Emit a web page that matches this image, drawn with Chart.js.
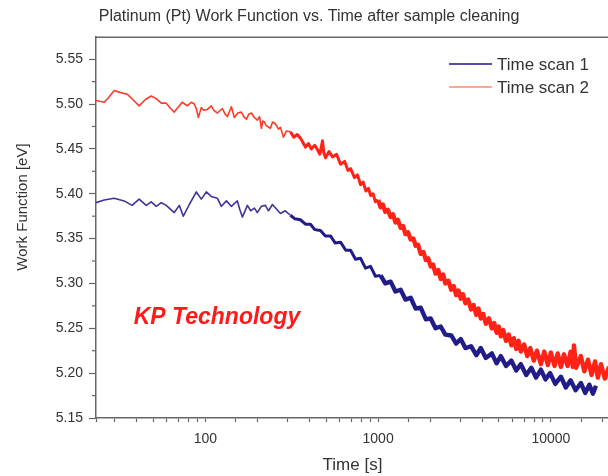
<!DOCTYPE html>
<html>
<head>
<meta charset="utf-8">
<script src="https://cdn.jsdelivr.net/npm/chart.js@4.4.1/dist/chart.umd.min.js"></script>
<style>
  html, body { margin: 0; padding: 0; background: #fff; overflow: hidden; }
  /* the original picture is cut off on the right, so the canvas runs past the window */
  #wrap { width: 618px; height: 476px; position: relative; }
</style>
</head>
<body>
<div id="wrap"><canvas id="wf_chart"></canvas></div>
<script>
// values (time in s, work function in eV)
const seriesNames = ["Time scan 1", "Time scan 2"];

const scan1Time = [
    23.3, 26.0, 29.7, 33.9, 37.7, 41.4, 45.5, 48.6, 52.0, 55.6,
    59.4, 66.1, 70.7, 74.6, 80.8, 88.7, 94.8, 101.3, 108.3, 117.4,
    123.8, 132.4, 141.5, 153.3, 158, 163.9, 175.2, 183, 192.4, 200,
    211.2, 222.7, 232, 244.6, 258, 272, 290, 311, 330, 355,
    380, 406, 430, 464, 495, 530, 565, 606, 650, 693,
    740, 792, 845, 904, 965, 1034, 1100, 1182, 1260, 1350,
    1440, 1543, 1650, 1764, 1890, 2015, 2150, 2303, 2450, 2650,
    2830, 3008, 3200, 3450, 3700, 3929, 4200, 4550, 4850, 5130,
    5500, 5900, 6300, 6700, 7200, 7700, 8200, 8750, 9300, 9900,
    10600, 11430, 12200, 13000, 13900, 14925, 15800, 16700, 17500, 18240
];
const scan1WF = [
    5.390, 5.393, 5.395, 5.392, 5.387, 5.394, 5.387, 5.391, 5.386, 5.390,
    5.387, 5.379, 5.387, 5.375, 5.388, 5.402, 5.394, 5.402, 5.397, 5.395,
    5.386, 5.392, 5.386, 5.392, 5.383, 5.374, 5.387, 5.381, 5.384, 5.379,
    5.386, 5.387, 5.381, 5.388, 5.383, 5.378, 5.381, 5.376, 5.372, 5.371,
    5.366, 5.366, 5.360, 5.359, 5.353, 5.353, 5.345, 5.346, 5.337, 5.337,
    5.327, 5.328, 5.317, 5.319, 5.308, 5.309, 5.300, 5.302, 5.291, 5.293,
    5.282, 5.284, 5.272, 5.273, 5.260, 5.261, 5.250, 5.252, 5.243, 5.242,
    5.233, 5.238, 5.228, 5.230, 5.220, 5.228, 5.217, 5.222, 5.211, 5.219,
    5.208, 5.214, 5.203, 5.210, 5.198, 5.206, 5.195, 5.204, 5.193, 5.200,
    5.188, 5.196, 5.184, 5.192, 5.181, 5.189, 5.178, 5.187, 5.177, 5.186
];

const scan2Time = [
    23.3, 24.5, 26.0, 27.5, 29.7, 32.0, 35.3, 38.0, 41.4, 45.0,
    48.6, 52.0, 55.6, 59.4, 63.0, 66.1, 70.0, 73.5, 78.7, 82.9,
    86.3, 89.0, 91.1, 94.8, 98.0, 102.7, 108.3, 112.0, 117.4, 125.5,
    130.0, 134.1, 141.5, 147.3, 154.0, 161.7, 167.0, 172.9, 179.0, 184.8,
    192.0, 200.2, 206, 211.2, 215, 219.8, 225, 238.1, 245, 254.6,
    265, 272, 283.3, 295, 311.1, 325, 340, 355.4, 365, 379.8,
    395, 410, 430, 446.1, 460, 476.8, 485, 496.3, 520, 545,
    575, 606, 640, 670, 693, 730, 760, 792, 820, 850,
    880, 905, 935, 965, 1000, 1034, 1065, 1100, 1140, 1182,
    1220, 1260, 1300, 1350, 1395, 1440, 1490, 1543, 1600, 1650,
    1705, 1764, 1830, 1890, 1950, 2015, 2080, 2150, 2230, 2303,
    2380, 2450, 2550, 2650, 2740, 2830, 2920, 3008, 3100, 3200,
    3320, 3450, 3570, 3700, 3810, 3929, 4060, 4200, 4380, 4550,
    4700, 4850, 4990, 5130, 5300, 5500, 5700, 5900, 6100, 6300,
    6500, 6700, 7000, 7300, 7600, 7969, 8300, 8750, 9150, 9607,
    10000, 10500, 10950, 11430, 11900, 12500, 13000, 13400, 13595, 14000,
    14900, 15600, 16390, 17200, 18000, 18700, 19490, 20500, 21690
];
const scan2WF = [
    5.504, 5.503, 5.502, 5.507, 5.515, 5.513, 5.511, 5.505, 5.498, 5.505,
    5.509, 5.506, 5.501, 5.501, 5.495, 5.491, 5.497, 5.502, 5.498, 5.502,
    5.500, 5.494, 5.485, 5.496, 5.493, 5.494, 5.498, 5.493, 5.490, 5.495,
    5.489, 5.486, 5.497, 5.485, 5.490, 5.491, 5.486, 5.483, 5.489, 5.490,
    5.485, 5.482, 5.486, 5.473, 5.481, 5.480, 5.476, 5.473, 5.480, 5.478,
    5.472, 5.474, 5.463, 5.470, 5.469, 5.463, 5.466, 5.462, 5.458, 5.452,
    5.456, 5.450, 5.454, 5.449, 5.444, 5.459, 5.446, 5.440, 5.447, 5.441,
    5.444, 5.433, 5.436, 5.426, 5.428, 5.418, 5.421, 5.410, 5.413, 5.403,
    5.406, 5.398, 5.400, 5.391, 5.393, 5.385, 5.388, 5.380, 5.382, 5.374,
    5.377, 5.368, 5.371, 5.362, 5.364, 5.355, 5.357, 5.349, 5.350, 5.342,
    5.343, 5.333, 5.335, 5.326, 5.328, 5.319, 5.321, 5.311, 5.315, 5.305,
    5.310, 5.300, 5.303, 5.293, 5.297, 5.287, 5.292, 5.283, 5.288, 5.278,
    5.282, 5.271, 5.276, 5.265, 5.272, 5.261, 5.266, 5.255, 5.261, 5.250,
    5.256, 5.245, 5.252, 5.241, 5.248, 5.236, 5.243, 5.231, 5.239, 5.227,
    5.236, 5.224, 5.232, 5.219, 5.228, 5.214, 5.225, 5.210, 5.224, 5.209,
    5.223, 5.208, 5.222, 5.207, 5.221, 5.208, 5.224, 5.207, 5.231, 5.206,
    5.219, 5.202, 5.215, 5.198, 5.213, 5.195, 5.210, 5.194, 5.207
];

const yTicks = [5.15, 5.20, 5.25, 5.30, 5.35, 5.40, 5.45, 5.50, 5.55];
const yMinorTicks = [5.175, 5.225, 5.275, 5.325, 5.375, 5.425, 5.475, 5.525];
const xLabelled = [100, 1000, 10000];

const pallet = {
    scan1: "#211c87",
    scan1Thin: "#3d3597",
    scan2: "#ff2216",
    scan2Thin: "#ff3a2a",
    legend1: "#5a4ea6",
    legend2: "#ffa893",
    axis: "#666666",
    text: "#333333",
    note: "#ff1a1a"
};
const FONT = "'Liberation Sans', Arial, sans-serif";

function toPoints(xs, ys) {
    const pts = [];
    for (let i = 0; i < Math.min(xs.length, ys.length); i++) {
        pts.push({ x: xs[i], y: ys[i] });
    }
    return pts;
}

// the noisy part of the scans reads as a thicker band
function segWidth(c) {
    const t = c.p0.parsed.x;
    return t < 300 ? 1.6 : t < 1000 ? 3 : 4.4;
}

// top frame line, minor y ticks, y title, legend and the "KP Technology" note
const extras = {
    id: "extras",
    afterDraw(chart) {
        const ctx = chart.ctx;
        const area = chart.chartArea;
        const ys = chart.scales.y;
        const xs = chart.scales.x;
        ctx.save();
        ctx.strokeStyle = pallet.axis;
        ctx.lineWidth = 1.5;
        ctx.beginPath();
        ctx.moveTo(area.left, area.top);
        ctx.lineTo(area.right, area.top);
        ctx.stroke();

        ctx.lineWidth = 1.2;
        for (const v of yMinorTicks) {
            const py = ys.getPixelForValue(v);
            ctx.beginPath();
            ctx.moveTo(area.left - 4, py);
            ctx.lineTo(area.left, py);
            ctx.stroke();
        }

        // y axis title sits a bit above the middle in the original
        ctx.save();
        ctx.translate(23, 207);
        ctx.rotate(-Math.PI / 2);
        ctx.font = "15px " + FONT;
        ctx.fillStyle = pallet.text;
        ctx.textAlign = "center";
        ctx.textBaseline = "middle";
        ctx.fillText("Work Function [eV]", 0, 0);
        ctx.restore();

        // legend
        const lx = 449, lw = 43;
        const rows = [[64, pallet.legend1, seriesNames[0]], [87, pallet.legend2, seriesNames[1]]];
        ctx.font = "17px " + FONT;
        ctx.textBaseline = "middle";
        ctx.textAlign = "left";
        for (const [py, col, name] of rows) {
            ctx.strokeStyle = col;
            ctx.lineWidth = 2;
            ctx.beginPath();
            ctx.moveTo(lx, py);
            ctx.lineTo(lx + lw, py);
            ctx.stroke();
            ctx.fillStyle = pallet.text;
            ctx.fillText(name, lx + lw + 5, py + 1);
        }

        // company note, placed through the scales
        ctx.font = "italic bold 23px " + FONT;
        ctx.fillStyle = pallet.note;
        ctx.fillText("KP Technology", xs.getPixelForValue(38.5), ys.getPixelForValue(5.262));
        ctx.restore();
    }
};

new Chart("wf_chart", {
    type: "line",
    data: {
        datasets: [
            {
                label: seriesNames[0],
                data: toPoints(scan1Time, scan1WF),
                borderColor: pallet.scan1,
                borderWidth: 1.6,
                borderJoinStyle: "round",
                pointRadius: 0,
                tension: 0,
                segment: {
                    borderWidth: segWidth,
                    borderColor: c => c.p0.parsed.x < 300 ? pallet.scan1Thin : pallet.scan1
                }
            },
            {
                label: seriesNames[1],
                data: toPoints(scan2Time, scan2WF),
                borderColor: pallet.scan2,
                borderWidth: 1.6,
                borderJoinStyle: "round",
                pointRadius: 0,
                tension: 0,
                segment: {
                    borderWidth: segWidth,
                    borderColor: c => c.p0.parsed.x < 300 ? pallet.scan2Thin : pallet.scan2
                }
            }
        ]
    },
    options: {
        responsive: true,
        maintainAspectRatio: false,
        animation: false,
        layout: { padding: { left: 0, right: 0, top: 0, bottom: 0 } },
        plugins: {
            legend: { display: false },
            tooltip: { enabled: false },
            title: {
                display: true,
                text: "Platinum (Pt) Work Function vs. Time after sample cleaning",
                color: pallet.text,
                font: { family: FONT, size: 16, weight: "normal" },
                padding: { top: 7, bottom: 11 }
            }
        },
        scales: {
            x: {
                type: "logarithmic",
                min: 23.3,
                max: 21690,
                afterFit: s => { s.height = 58; },
                border: { color: pallet.axis, width: 1.5 },
                grid: { drawOnChartArea: false, tickLength: 4, tickColor: pallet.axis, tickWidth: 1.2 },
                ticks: {
                    autoSkip: false,
                    maxRotation: 0,
                    padding: 9,
                    color: pallet.text,
                    font: { family: FONT, size: 14 },
                    callback: v => xLabelled.includes(Math.round(v)) ? String(Math.round(v)) : ""
                },
                title: {
                    display: true,
                    text: "Time [s]",
                    color: pallet.text,
                    font: { family: FONT, size: 17 },
                    padding: { top: 0, bottom: 0 }
                }
            },
            y: {
                min: 5.15,
                max: 5.5745,
                afterFit: s => { s.width = 96; },
                afterBuildTicks: s => { s.ticks = yTicks.map(v => ({ value: v })); },
                border: { color: pallet.axis, width: 1.5 },
                grid: { drawOnChartArea: false, tickLength: 7, tickColor: pallet.axis, tickWidth: 1.2 },
                ticks: {
                    padding: 6,
                    color: pallet.text,
                    font: { family: FONT, size: 14 },
                    callback: v => Number(v).toFixed(2)
                },
                title: { display: false }
            }
        }
    },
    plugins: [extras]
});
</script>
</body>
</html>
